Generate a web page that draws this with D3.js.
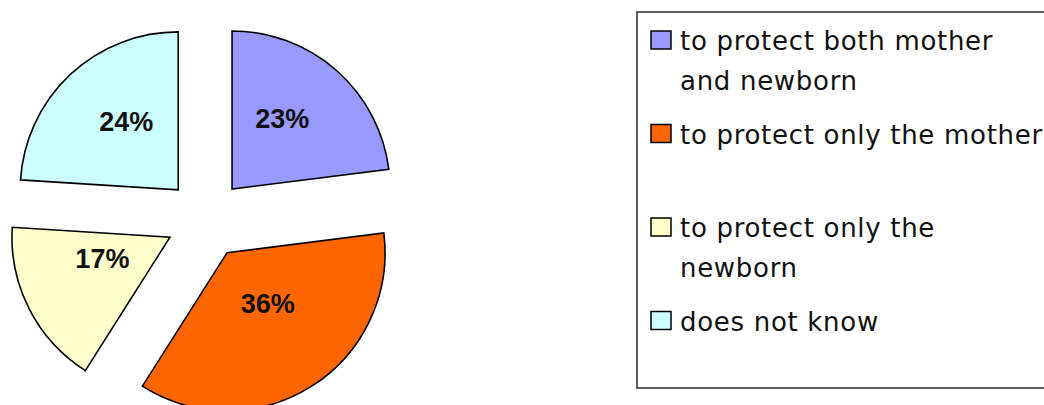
<!DOCTYPE html>
<html>
<head>
<meta charset="utf-8">
<script src="https://cdn.jsdelivr.net/npm/d3@7"></script>
<style>
  html, body { margin: 0; padding: 0; background: #fff; }
  svg { display: block; }
</style>
</head>
<body>
<svg id="chart" width="1044" height="405"></svg>
<script>
// ---- data ----
const categories = [
  "to protect both mother\nand newborn",
  "to protect only the mother",
  "to protect only the\nnewborn",
  "does not know"
];
const values = [23, 36, 17, 24];
const percentLabels = ["23%", "36%", "17%", "24%"];
const colors = ["#9999FF", "#FF6600", "#FFFFCC", "#CCFFFF"];

// ---- layout ----
const W = 1044, H = 405;
const cx = 205.6, cy = 219;
const radius = 158;
const explode = 40;
const labelK = 0.48;
const labelDy = -13;

const svg = d3.select("#chart");

const pie = d3.pie().sort(null).value(d => d).startAngle(0).endAngle(2 * Math.PI);
const arcs = pie(values);
const arc = d3.arc().innerRadius(0).outerRadius(radius);

const g = svg.append("g").attr("transform", `translate(${cx},${cy})`);

const slices = g.selectAll("g.slice")
  .data(arcs)
  .join("g")
  .attr("class", "slice")
  .attr("transform", d => {
    const m = (d.startAngle + d.endAngle) / 2;
    return `translate(${explode * Math.sin(m)},${-explode * Math.cos(m)})`;
  });

slices.append("path")
  .attr("d", arc)
  .attr("fill", (d, i) => colors[i])
  .attr("stroke", "#000")
  .attr("stroke-width", 1.6)
  .attr("stroke-linejoin", "miter");

slices.append("text")
  .attr("x", d => { const m = (d.startAngle + d.endAngle) / 2; return labelK * radius * Math.sin(m); })
  .attr("y", d => { const m = (d.startAngle + d.endAngle) / 2; return -labelK * radius * Math.cos(m) + labelDy; })
  .attr("text-anchor", "middle")
  .attr("dominant-baseline", "central")
  .attr("font-family", "'Liberation Sans', Arial, sans-serif")
  .attr("font-weight", "bold")
  .attr("font-size", 27)
  .attr("fill", "#111")
  .text((d, i) => percentLabels[i]);

// ---- legend ----
const lx = 637, ly = 12, lw = 420, lh = 376;
svg.append("rect")
  .attr("x", lx).attr("y", ly).attr("width", lw).attr("height", lh)
  .attr("fill", "#fff").attr("stroke", "#333").attr("stroke-width", 1.6);

const itemStep = 93.5, firstBaseline = 50, lineH = 40;
const leg = svg.append("g");
categories.forEach((c, i) => {
  const base = firstBaseline + i * itemStep;
  leg.append("rect")
    .attr("x", 651).attr("y", base - 19)
    .attr("width", 20).attr("height", 18)
    .attr("fill", colors[i]).attr("stroke", "#000").attr("stroke-width", 1.5);
  const t = leg.append("text")
    .attr("x", 680).attr("y", base)
    .attr("font-family", "'DejaVu Sans', sans-serif")
    .attr("font-size", 26)
    .attr("letter-spacing", 0.7)
    .attr("fill", "#111");
  c.split("\n").forEach((line, j) => {
    t.append("tspan").attr("x", 680).attr("y", base + j * lineH).text(line);
  });
});
</script>
</body>
</html>
